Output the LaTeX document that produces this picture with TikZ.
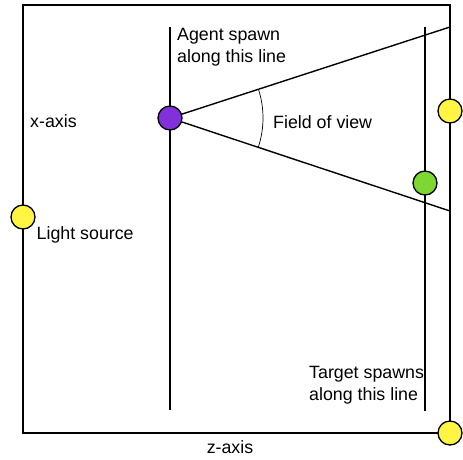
\documentclass[tikz,border=0pt]{standalone}
\usepackage{fontspec}
\setmainfont{Liberation Sans}
\usetikzlibrary{calc}
\begin{document}
\begin{tikzpicture}[x=1pt,y=-1pt,
  dot/.style={circle,draw=black,line width=1.3pt,minimum size=24pt,inner sep=0pt},
  lbl/.style={font=\fontsize{17.8}{22}\selectfont,inner sep=0pt,align=left},
  thick line/.style={line width=1.4pt}]
\useasboundingbox (0,0) rectangle (463,459);
\coordinate (tl) at (23,5);
\coordinate (br) at (450,433);
\draw[line width=2.2pt] (tl) rectangle (br);
% spawn lines
\coordinate (a1) at (170,27);
\coordinate (a2) at (170,410);
\coordinate (t1) at (425,27);
\coordinate (t2) at (425,411);
\draw[thick line] (a1) -- (a2);
\draw[thick line] (t1) -- (t2);
% field of view
\coordinate (f1) at (450,27);
\coordinate (f2) at (450,211);
\coordinate (ag) at (170,118);
\draw[thick line] (ag) -- (f1);
\draw[thick line] (ag) -- (f2);
\draw[line width=0.7pt] ($(ag)+(-18:93)$) arc[start angle=-18,end angle=18,radius=93] ;
% dots
\node[dot,fill={rgb,255:red,130;green,48;blue,220}] (agent) at (ag) {};
\node[dot,fill={rgb,255:red,255;green,245;blue,66}] (lr) at (450,111) {};
\node[dot,fill={rgb,255:red,125;green,214;blue,50}] (target) at (425,183) {};
\node[dot,fill={rgb,255:red,255;green,245;blue,66}] (ll) at (23,217) {};
\node[dot,fill={rgb,255:red,255;green,245;blue,66}] (lb) at (450,433) {};
% labels
\node[lbl,anchor=base west] (agtxt) at (177,62.7) {Agent spawn\\along this line};
\node[lbl,anchor=base west] (xax) at (30,127.3) {x-axis};
\node[lbl,anchor=base west] (fov) at (273,128.3) {Field of view};
\node[lbl,anchor=base west] (ls) at (36.5,239.3) {Light source};
\node[lbl,anchor=base west] (tgt) at (309,400) {Target spawns\\along this line};
\node[lbl,anchor=base] (zax) at (230,453) {z-axis};
\end{tikzpicture}
\end{document}
